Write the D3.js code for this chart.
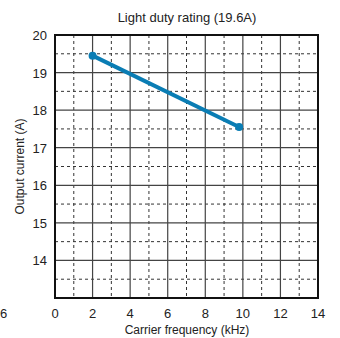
<!DOCTYPE html>
<html>
<head>
<meta charset="utf-8">
<script src="https://cdn.jsdelivr.net/npm/d3@7"></script>
<style>
  body { margin: 0; background: #fff; }
  svg text { font-family: "Liberation Sans", Arial, sans-serif; fill: #222; }
</style>
</head>
<body>
<div id="chart"></div>
<script>
// data
const freqKHz = [2, 9.8]
const currentA = [19.45, 17.55]
const xTicks = [0, 2, 4, 6, 8, 10, 12, 14]
const yTicks = [14, 15, 16, 17, 18, 19, 20]
const xMinor = [1, 3, 5, 7, 9, 11, 13]
const yMinor = [13.5, 14.5, 15.5, 16.5, 17.5, 18.5, 19.5]

const width = 340
const height = 338
const plotL = 55, plotR = 318, plotT = 35, plotB = 298

const svg = d3.select("#chart").append("svg")
    .attr("width", width)
    .attr("height", height)

const x = d3.scaleLinear().domain([0, 14]).range([plotL, plotR])
const y = d3.scaleLinear().domain([13, 20]).range([plotB, plotT])

// dashed minor grid
svg.append("g")
    .attr("stroke", "#333")
    .attr("stroke-width", 1)
    .attr("stroke-dasharray", "3,3")
  .selectAll("line")
  .data(xMinor)
  .join("line")
    .attr("x1", d => x(d)).attr("x2", d => x(d))
    .attr("y1", plotT).attr("y2", plotB)

svg.append("g")
    .attr("stroke", "#333")
    .attr("stroke-width", 1)
    .attr("stroke-dasharray", "3,3")
  .selectAll("line")
  .data(yMinor)
  .join("line")
    .attr("x1", plotL).attr("x2", plotR)
    .attr("y1", d => y(d)).attr("y2", d => y(d))

// solid major grid
svg.append("g")
    .attr("stroke", "#444")
    .attr("stroke-width", 1.2)
  .selectAll("line")
  .data(xTicks.slice(1, -1))
  .join("line")
    .attr("x1", d => x(d)).attr("x2", d => x(d))
    .attr("y1", plotT).attr("y2", plotB)

svg.append("g")
    .attr("stroke", "#444")
    .attr("stroke-width", 1.2)
  .selectAll("line")
  .data(yTicks.slice(0, -1))
  .join("line")
    .attr("x1", plotL).attr("x2", plotR)
    .attr("y1", d => y(d)).attr("y2", d => y(d))

// frame
svg.append("rect")
    .attr("x", plotL).attr("y", plotT)
    .attr("width", plotR - plotL).attr("height", plotB - plotT)
    .attr("fill", "none")
    .attr("stroke", "#111")
    .attr("stroke-width", 2)

// tick labels
svg.append("g").selectAll("text")
  .data(xTicks)
  .join("text")
    .attr("x", d => x(d))
    .attr("y", 318)
    .attr("text-anchor", "middle")
    .attr("font-size", 13)
    .text(d => d)

svg.append("g").selectAll("text")
  .data(yTicks)
  .join("text")
    .attr("x", 47)
    .attr("y", d => y(d) + 5)
    .attr("text-anchor", "end")
    .attr("font-size", 13)
    .text(d => d)

// stray label at the left edge
svg.append("text")
    .attr("x", 0)
    .attr("y", 318)
    .attr("font-size", 13)
    .text("6")

// titles
svg.append("text")
    .attr("x", 187)
    .attr("y", 22)
    .attr("text-anchor", "middle")
    .attr("font-size", 13)
    .text("Light duty rating (19.6A)")

svg.append("text")
    .attr("x", 187)
    .attr("y", 334)
    .attr("text-anchor", "middle")
    .attr("font-size", 12)
    .text("Carrier frequency (kHz)")

svg.append("text")
    .attr("transform", "translate(24," + ((plotT + plotB) / 2) + ") rotate(-90)")
    .attr("text-anchor", "middle")
    .attr("font-size", 12)
    .text("Output current (A)")

// series
const pts = freqKHz.map((f, i) => [f, currentA[i]])

svg.append("path")
    .datum(pts)
    .attr("fill", "none")
    .attr("stroke", "#0a7db4")
    .attr("stroke-width", 4)
    .attr("d", d3.line().x(d => x(d[0])).y(d => y(d[1])))

svg.append("g").selectAll("circle")
  .data(pts)
  .join("circle")
    .attr("cx", d => x(d[0]))
    .attr("cy", d => y(d[1]))
    .attr("r", 4)
    .attr("fill", "#0a7db4")
</script>
</body>
</html>
